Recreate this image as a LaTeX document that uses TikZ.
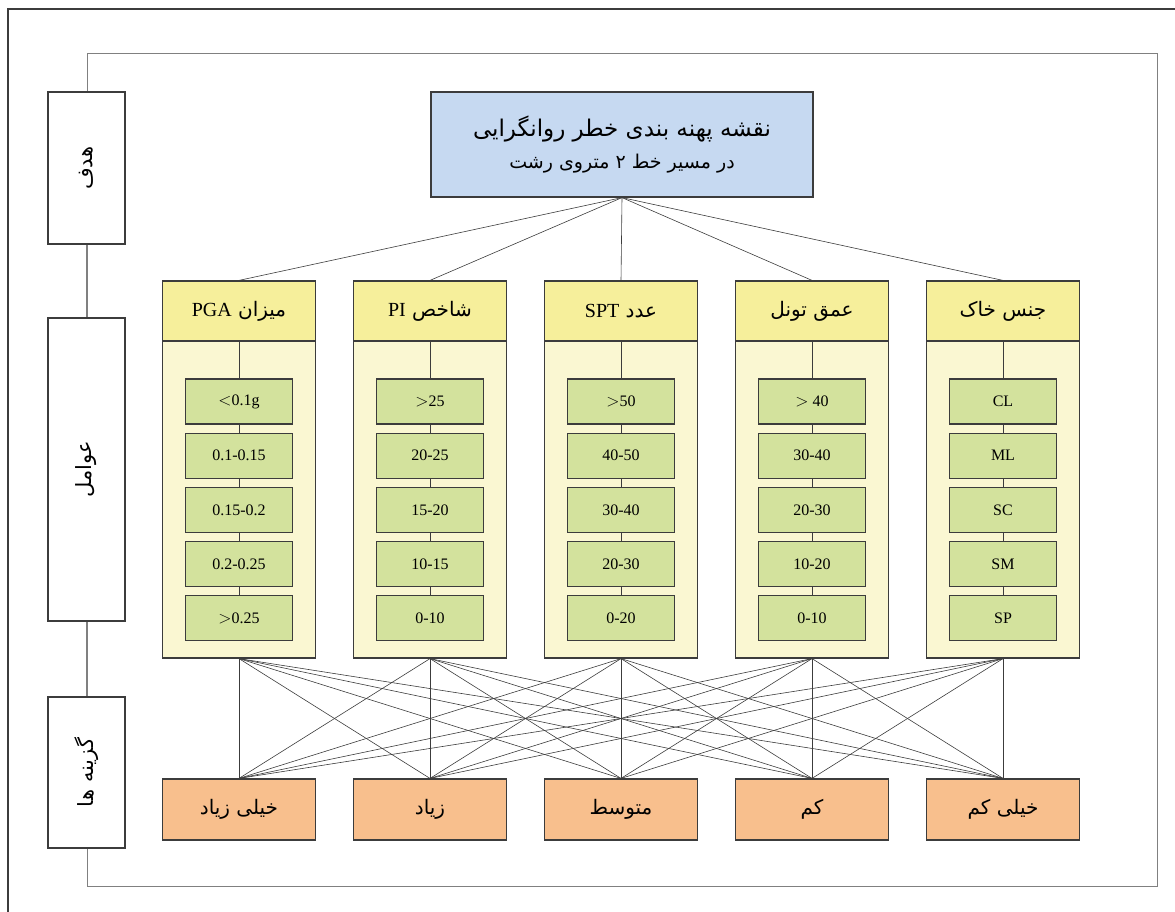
\documentclass[tikz,border=0pt]{standalone}
\usepackage{fontspec}
\setmainfont{Liberation Serif}
\newfontfamily\farsi[Script=Arabic]{DejaVu Sans}
\TeXXeTstate=1
\usetikzlibrary{positioning}

\definecolor{goalblue}{HTML}{C6D9F1}
\definecolor{headyellow}{HTML}{F6EF9B}
\definecolor{bodyyellow}{HTML}{FAF7D2}
\definecolor{classgreen}{HTML}{D3E29D}
\definecolor{altorange}{HTML}{F8BF8D}
\definecolor{edgegray}{HTML}{3C3C3C}

\newcommand\fa[1]{{\farsi\beginR #1\endR}}
\newcommand\la[1]{\beginL{\rmfamily #1}\endL}

\begin{document}
\begin{tikzpicture}[x=1pt,y=-1pt,
	box/.style={draw=edgegray, line width=1.2pt, inner sep=0pt, align=center},
	goalbox/.style={box, fill=goalblue, minimum width=382pt, minimum height=105pt},
	headbox/.style={box, fill=headyellow, minimum width=153pt, minimum height=60pt, font=\fontsize{20}{24}\selectfont},
	bodybox/.style={box, fill=bodyyellow, minimum width=153pt, minimum height=317pt},
	classbox/.style={box, fill=classgreen, minimum width=107pt, minimum height=45pt, font=\fontsize{16}{19}\selectfont},
	altbox/.style={box, fill=altorange, minimum width=153pt, minimum height=61pt, font=\fontsize{20}{24}\selectfont},
	levelbox/.style={box, fill=white, minimum width=77pt, font=\fontsize{21}{24}\selectfont},
	link/.style={draw=edgegray, line width=0.6pt}]
	\useasboundingbox (0,0) rectangle (1175,912);
	% frames
	\draw[edgegray, line width=1.5pt] (8,912) -- (8,9) -- (1175,9);
	\draw[gray, line width=1pt] (87,54) rectangle (1157,886);
	% levels
	\node[levelbox, minimum height=152pt] (goallevel) at (86.5,168) {\rotatebox{90}{\fa{هدف}}};
	\node[levelbox, minimum height=303pt] (factorlevel) at (86.5,469.5) {\rotatebox{90}{\fa{عوامل}}};
	\node[levelbox, minimum height=151pt] (altlevel) at (86.5,772.5) {\rotatebox{90}{\fa{گزینه ها}}};
	% goal
	\node[goalbox] (goal) at (622,144.5) {{\fontsize{23}{28}\selectfont\fa{نقشه پهنه بندی خطر روانگرایی}}\\[10pt]{\fontsize{19}{22}\selectfont\fa{در مسیر خط ۲ متروی رشت}}};
	% factors
	\foreach \i/\hd/\ca/\cb/\cc/\cd/\ce in {
		1/{\fa{میزان \la{PGA}}}/{$<$0.1g}/0.1-0.15/0.15-0.2/0.2-0.25/{$>$0.25},
		2/{\fa{شاخص \la{PI}}}/{$>$25}/20-25/15-20/10-15/0-10,
		3/{\fa{عدد \la{SPT}}}/{$>$50}/40-50/30-40/20-30/0-20,
		4/{\fa{عمق تونل}}/{$>$ 40}/30-40/20-30/10-20/0-10,
		5/{\fa{جنس خاک}}/CL/ML/SC/SM/SP} {
		\pgfmathsetmacro\cx{48+191*\i}
		\node[bodybox] (b\i) at (\cx,499.5) {};
		\node[headbox] (h\i) at (\cx,311) {\hd};
		\node[classbox] (c\i-1) at (\cx,401.5) {\ca};
		\node[classbox, below=8pt of c\i-1] (c\i-2) {\cb};
		\node[classbox, below=8pt of c\i-2] (c\i-3) {\cc};
		\node[classbox, below=8pt of c\i-3] (c\i-4) {\cd};
		\node[classbox, below=8pt of c\i-4] (c\i-5) {\ce};
		\draw[link] (h\i.south) -- (c\i-1.north);
		\foreach \k [count=\n from 2] in {1,...,4}
			\draw[link] (c\i-\k.south) -- (c\i-\n.north);
	}
	% alternatives
	\foreach \j/\alt in {1/خیلی زیاد, 2/زیاد, 3/متوسط, 4/کم, 5/خیلی کم} {
		\pgfmathsetmacro\cx{48+191*\j}
		\node[altbox] (a\j) at (\cx,809.5) {\fa{\alt}};
	}
	% links
	\foreach \i in {1,...,5} {
		\draw[link] (goal.south) -- (h\i.north);
		\foreach \j in {1,...,5}
			\draw[link] (b\i.south) -- (a\j.north);
	}
	% levels joined along the frame
	\draw[gray, line width=1pt] (goallevel.south) -- (factorlevel.north);
	\draw[gray, line width=1pt] (factorlevel.south) -- (altlevel.north);
\end{tikzpicture}
\end{document}
